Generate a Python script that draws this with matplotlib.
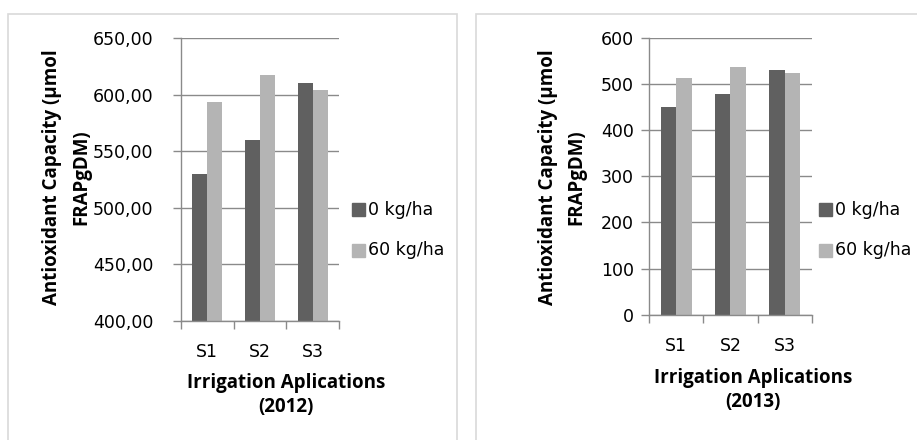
import numpy as np
import matplotlib.pyplot as plt
from matplotlib.patches import Rectangle

plt.rcParams['font.family'] = ['DejaVu Sans']

# data
categories = ['S1', 'S2', 'S3']
series_names = ['0 kg/ha', '60 kg/ha']
vals_2012_0 = [529.5, 560.0, 610.5]
vals_2012_60 = [593.5, 617.5, 604.5]
vals_2013_0 = [449, 479, 529]
vals_2013_60 = [513, 537, 524]

dark = '#606060'
light = '#b4b4b4'
grid_col = '#8a8a8a'
frame_col = '#d9d9d9'
bold_font = ['Open Sans', 'DejaVu Sans']

fig = plt.figure(figsize=(9.17, 4.4), dpi=100)

# outer chart frames
fig.patches.append(Rectangle((8 / 917, -0.1), 449 / 917, 1.1 - 14 / 440, transform=fig.transFigure,
                             fill=False, edgecolor=frame_col, lw=1.2))
fig.patches.append(Rectangle((476 / 917, -0.1), 0.6, 1.1 - 14 / 440, transform=fig.transFigure,
                             fill=False, edgecolor=frame_col, lw=1.2))


def draw_panel(rect, v0, v60, ylim, yticks, fmt, ypad, year, ylab_x, xlab_x, xlab_y, leg_x):
    ax = fig.add_axes(rect)
    x = np.arange(len(categories))
    w = 0.285
    ax.bar(x - w / 2, np.array(v0) - ylim[0], w, bottom=ylim[0], color=dark, zorder=3)
    ax.bar(x + w / 2, np.array(v60) - ylim[0], w, bottom=ylim[0], color=light, zorder=3)
    ax.set_xlim(-0.5, 2.5)
    ax.set_ylim(*ylim)
    ax.set_yticks(yticks)
    ax.set_yticklabels([fmt(t) for t in yticks])
    ax.set_xticks(x)
    ax.set_xticklabels(categories)
    ax.set_xticks([-0.5, 0.5, 1.5, 2.5], minor=True)
    ax.tick_params(axis='x', which='major', length=0, pad=16, labelsize=12.5)
    ax.tick_params(axis='x', which='minor', length=6, color=grid_col, width=1)
    ax.tick_params(axis='y', length=6, color=grid_col, width=1, pad=ypad, labelsize=12.5)
    ax.yaxis.grid(True, color=grid_col, lw=1, zorder=0)
    for s in ['top', 'right']:
        ax.spines[s].set_visible(False)
    for s in ['left', 'bottom']:
        ax.spines[s].set_color(grid_col)
        ax.spines[s].set_linewidth(1)
    ax.spines['bottom'].set_zorder(4)

    fig.text(ylab_x / 917, 1 - 177 / 440, 'Antioxidant Capacity (µmol\nFRAPgDM)', rotation=90,
             ha='center', va='center', fontsize=13.5, fontweight='bold', linespacing=1.6,
             family=bold_font)
    fig.text(xlab_x / 917, 1 - xlab_y / 440, 'Irrigation Aplications\n(%d)' % year,
             ha='center', va='center', fontsize=13.5, fontweight='bold', linespacing=1.3,
             family=bold_font)

    # legend
    for i, (name, c) in enumerate(zip(series_names, [dark, light])):
        yy = 1 - (210 + 40 * i) / 440
        fig.patches.append(Rectangle((leg_x / 917, yy - 6.5 / 440), 13 / 917, 13 / 440,
                                     transform=fig.transFigure, color=c))
        fig.text((leg_x + 16) / 917, yy, name, ha='left', va='center', fontsize=12.5)
    return ax


draw_panel([181 / 917, 1 - 321 / 440, 158 / 917, 283 / 440], vals_2012_0, vals_2012_60,
           (400, 650), [400, 450, 500, 550, 600, 650], lambda t: '%d,00' % t, 14,
           2012, 67, 286, 395, 352)
draw_panel([649 / 917, 1 - 314.7 / 440, 163 / 917, 277 / 440], vals_2013_0, vals_2013_60,
           (0, 600), [0, 100, 200, 300, 400, 500, 600], lambda t: '%d' % t, 5,
           2013, 562, 753, 390, 819)

fig.savefig('out.png', dpi=100)
